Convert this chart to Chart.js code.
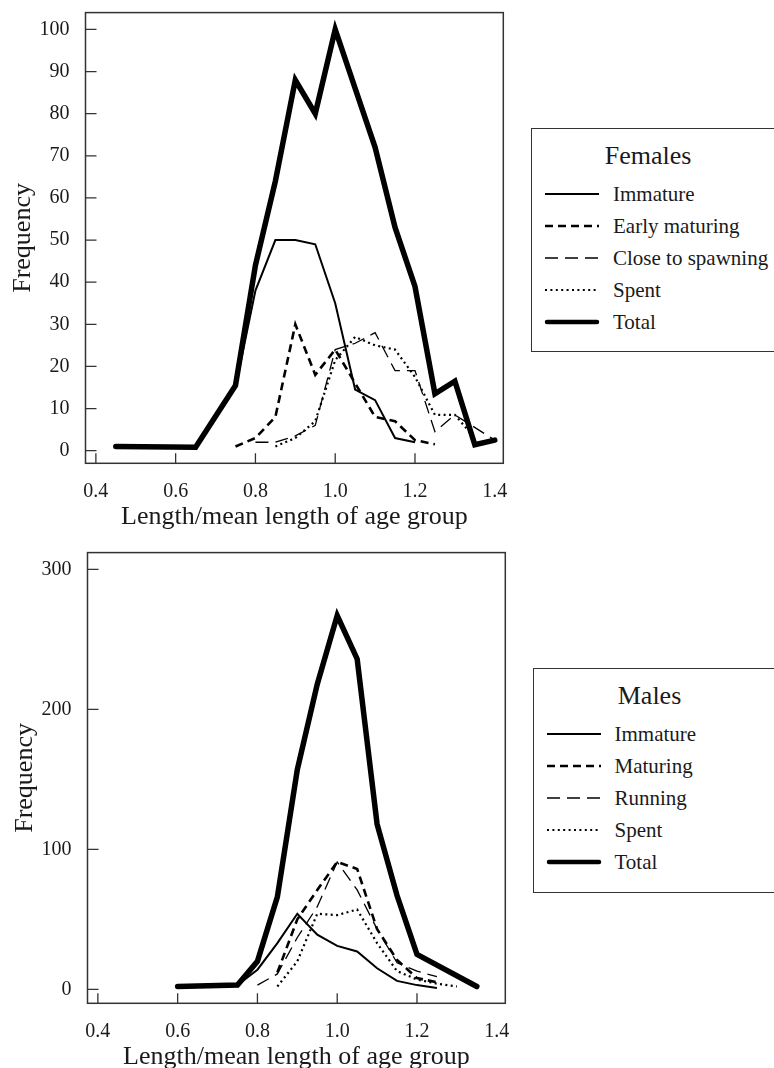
<!DOCTYPE html>
<html>
<head>
<meta charset="utf-8">
<script src="https://cdn.jsdelivr.net/npm/chart.js@4.4.1/dist/chart.umd.min.js"></script>
<style>
  body { margin: 0; background: #fff; }
  #page {
    position: relative; width: 774px; height: 1068px; overflow: hidden;
    font-family: "Liberation Serif", "Times New Roman", serif; color: #1a1a1a;
  }
  .plot { position: absolute; width: 520px; height: 540px; }
  #femalesWrap { left: 0; top: 0; }
  #malesWrap { left: 2px; top: 540px; }
  .legend {
    position: absolute; width: 260px; box-sizing: border-box;
    border: 1.5px solid #333; background: #fff;
  }
  #femalesLegend { left: 531px; top: 128px; height: 224px; }
  #malesLegend { left: 532.5px; top: 668px; height: 225px; }
  .legend .title {
    position: absolute; left: 116px; transform: translate(-50%, -50%);
    font-size: 26px; line-height: 1; white-space: nowrap;
  }
  .legend .row { position: absolute; left: 0; width: 100%; height: 0; }
  .legend svg { position: absolute; left: 12px; top: -6px; }
  .legend .label {
    position: absolute; left: 81px; top: 0; transform: translateY(-50%);
    font-size: 21px; line-height: 1; white-space: nowrap;
  }
</style>
</head>
<body>
<div id="page">
  <div class="plot" id="femalesWrap"><canvas id="femalesChart" width="520" height="540"></canvas></div>
  <div class="plot" id="malesWrap"><canvas id="malesChart" width="520" height="540"></canvas></div>
  <div class="legend" id="femalesLegend"></div>
  <div class="legend" id="malesLegend"></div>
</div>
<script>
// Females (top panel)
const femaleLengths  = [0.45, 0.65, 0.75, 0.80, 0.85, 0.90, 0.95, 1.00, 1.05, 1.10, 1.15, 1.20, 1.25, 1.30, 1.35, 1.40];
const femaleImmature = [1, 0.8, 15, 38, 50, 50, 49, 35, 14.5, 12, 3, 2, null, null, null, null];
const femaleEarly    = [null, null, 1, 3, 8, 30, 18, 24, 16, 8, 7, 2.5, 1.5, null, null, null];
const femaleClose    = [null, null, null, 2, 2, 3.5, 6, 24, 25.5, 28, 19, 19, 4.5, 8.5, null, 2.5];
const femaleSpent    = [null, null, null, null, 1, 3, 7, 21.5, 27, 25, 24, 17.5, 8.5, 8.5, 3, null];
const femaleTotal    = [1, 0.8, 15.5, 44, 64, 88, 80, 100, 86, 72, 53, 39, 13.5, 16.5, 1.4, 2.5];

// Males (bottom panel)
const maleLengths  = [0.60, 0.75, 0.80, 0.85, 0.90, 0.95, 1.00, 1.05, 1.10, 1.15, 1.20, 1.25, 1.30, 1.35];
const maleImmature = [2, 3, 14, 33, 54, 39, 31, 27, 15, 6, 3, 1, null, null];
const maleMaturing = [null, null, null, 12, 50, 71, 91, 86, 43, 21, 8, 5, null, null];
const maleRunning  = [null, null, 3, 11, 37, 59, 91, 71, 43, 19, 13, 9, null, null];
const maleSpent    = [null, null, null, 2, 20, 54, 53, 57, 33, 13, 7, 4, 2, null];
const maleTotal    = [2, 3, 20, 66, 157, 218, 267, 236, 118, 67, 25, null, null, 2];

// Axis ticks
const xTickValues = [0.4, 0.6, 0.8, 1.0, 1.2, 1.4];
const femaleYTicks = [0, 10, 20, 30, 40, 50, 60, 70, 80, 90, 100];
const maleYTicks = [0, 100, 200, 300];

// Line looks for each stage, in legend order
const lineStyles = [
  { width: 2,   dash: [] },        // immature
  { width: 2.6, dash: [8, 5] },    // early maturing / maturing
  { width: 1.3, dash: [13, 7] },   // close to spawning / running
  { width: 2.2, dash: [2, 3.4] },  // spent
  { width: 5.5, dash: [] }         // total
];

Chart.defaults.font.family = '"Liberation Serif", "Times New Roman", serif';
Chart.defaults.color = '#1a1a1a';

function toPoints(xs, ys) {
  const pts = [];
  xs.forEach((x, i) => { if (ys[i] !== null) pts.push({ x: x, y: ys[i] }); });
  return pts;
}

function buildDatasets(xs, labels, series) {
  return series.map((ys, i) => ({
    label: labels[i],
    data: toPoints(xs, ys),
    borderColor: '#000',
    borderWidth: lineStyles[i].width,
    borderDash: lineStyles[i].dash,
    borderJoinStyle: 'miter',
    borderCapStyle: i === 4 ? 'round' : 'butt',
    pointRadius: 0,
    tension: 0,
    fill: false
  }));
}

// Draws the box round the plot and the inward tick marks
const framePlugin = {
  id: 'frame',
  afterDraw(chart) {
    const { ctx, chartArea: a, scales } = chart;
    ctx.save();
    ctx.strokeStyle = '#333';
    ctx.lineWidth = 1.5;
    ctx.strokeRect(a.left, a.top, a.right - a.left, a.bottom - a.top);
    ctx.lineWidth = 1.3;
    ctx.beginPath();
    scales.x.ticks.forEach(t => {
      const px = scales.x.getPixelForValue(t.value);
      if (px > a.right - 12) return;
      ctx.moveTo(px, a.bottom);
      ctx.lineTo(px, a.bottom - 10);
    });
    scales.y.ticks.forEach(t => {
      const py = scales.y.getPixelForValue(t.value);
      ctx.moveTo(a.left, py);
      ctx.lineTo(a.left + 11, py);
    });
    ctx.stroke();
    ctx.restore();
  }
};

// keep the plot box where the reference has it
function fixScale(s, size) {
  if (s.isHorizontal()) s.height = size; else s.width = size;
  s.paddingTop = 0; s.paddingBottom = 0;
  s.paddingLeft = 0; s.paddingRight = 0;
}

function makeChart(canvasId, xs, labels, series, yMin, yMax, yTicks) {
  const ctx = document.getElementById(canvasId).getContext('2d');
  return new Chart(ctx, {
    type: 'line',
    data: { datasets: buildDatasets(xs, labels, series) },
    options: {
      responsive: false,
      animation: false,
      spanGaps: true,
      layout: { padding: { left: 0, top: 12.6, right: 16.7, bottom: 0 } },
      plugins: { legend: { display: false }, tooltip: { enabled: false } },
      scales: {
        x: {
          type: 'linear',
          min: 0.374,
          max: 1.4214,
          afterBuildTicks: s => { s.ticks = xTickValues.map(v => ({ value: v })); },
          afterFit: s => fixScale(s, 76.7),
          grid: { display: false },
          border: { display: false },
          ticks: {
            autoSkip: false, maxRotation: 0, padding: 8,
            font: { size: 20 }, color: '#1a1a1a',
            callback: v => Number(v).toFixed(1)
          },
          title: {
            display: true, text: 'Length/mean length of age group',
            font: { size: 26 }, color: '#1a1a1a', padding: { top: 0, bottom: 7 }
          }
        },
        y: {
          type: 'linear',
          min: yMin,
          max: yMax,
          afterBuildTicks: s => { s.ticks = yTicks.map(v => ({ value: v })); },
          afterFit: s => fixScale(s, 85.5),
          grid: { display: false },
          border: { display: false },
          ticks: { padding: 8, font: { size: 20 }, color: '#1a1a1a' },
          title: {
            display: true, text: 'Frequency',
            font: { size: 26 }, color: '#1a1a1a', padding: { top: 8, bottom: 0 }
          }
        }
      }
    },
    plugins: [framePlugin]
  });
}

function renderLegend(chart, elId, title) {
  const box = document.getElementById(elId);
  const t = document.createElement('div');
  t.className = 'title';
  t.style.top = '27px';
  t.textContent = title;
  box.appendChild(t);
  chart.data.datasets.forEach((ds, i) => {
    const row = document.createElement('div');
    row.className = 'row';
    row.style.top = (65 + i * 32) + 'px';
    const w = ds.borderWidth > 4 ? 4.5 : ds.borderWidth;
    const dash = ds.borderDash.length ? ds.borderDash.join(' ') : 'none';
    const cap = ds.borderCapStyle === 'round' ? 'round' : 'butt';
    const x1 = cap === 'round' ? 3 : 1;
    row.innerHTML =
      '<svg width="58" height="12"><line x1="' + x1 + '" y1="6" x2="' + (55 - x1 + 1) +
      '" y2="6" stroke="#000" stroke-width="' + w + '" stroke-dasharray="' + dash +
      '" stroke-linecap="' + cap + '"/></svg>';
    const lab = document.createElement('div');
    lab.className = 'label';
    lab.textContent = ds.label;
    row.appendChild(lab);
    box.appendChild(row);
  });
}

const femalesChart = makeChart('femalesChart', femaleLengths,
  ['Immature', 'Early maturing', 'Close to spawning', 'Spent', 'Total'],
  [femaleImmature, femaleEarly, femaleClose, femaleSpent, femaleTotal],
  -3, 104, femaleYTicks);

const malesChart = makeChart('malesChart', maleLengths,
  ['Immature', 'Maturing', 'Running', 'Spent', 'Total'],
  [maleImmature, maleMaturing, maleRunning, maleSpent, maleTotal],
  -10, 312, maleYTicks);

renderLegend(femalesChart, 'femalesLegend', 'Females');
renderLegend(malesChart, 'malesLegend', 'Males');
</script>
</body>
</html>
